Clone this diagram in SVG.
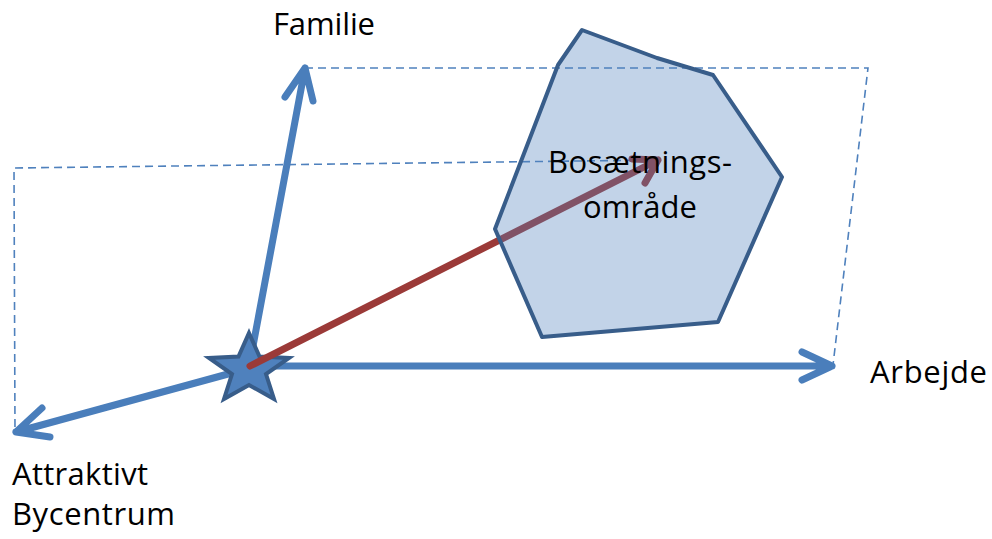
<svg xmlns="http://www.w3.org/2000/svg" width="992" height="539" viewBox="0 0 992 539">
<style>
.dash{fill:none;stroke:#4F81BD;stroke-width:1.6;stroke-dasharray:8 5}
.blue{fill:none;stroke:#4A7EBB;stroke-width:7;stroke-linecap:round;stroke-linejoin:round}
.red{fill:none;stroke:#9B3A38;stroke-width:7;stroke-linecap:round;stroke-linejoin:round}
.lbl{font-family:"Open Sans","Liberation Sans",Arial,sans-serif;font-size:31px;fill:#000}
</style>
<rect width="992" height="539" fill="#fff"/>
<g id="connectors">
<path class="dash" d="M305,68 L868,68 L833,365"/>
<path class="dash" d="M660,160 L14,168 L15,432"/>
<path class="blue" d="M250,362 L305,68 M285,97 L305,68 L313,101"/>
<path class="blue" d="M250,366 L832,366 M802,352 L832,366 L802,380"/>
<path class="blue" d="M250,368 L16,432 M42,408 L16,432 L50,437"/>
</g>
<g id="star">
<polygon points="249,333 259.5,356.5 289,358 266,374 274,399 249,385 224,399 232,374 209,358 238.5,356.5" fill="#4F81BD" stroke="#385D8A" stroke-width="4" stroke-linejoin="miter"/>
</g>
<g id="red-arrow">
<path class="red" d="M250,366 L658,160 M632,159 L658,160 L645,183"/>
</g>
<g id="bosaetningsomraade">
<polygon points="582,30 657,58 713,75 782,177 718,322 542,337 495,229 558,65" fill="#4F81BD" fill-opacity="0.35" stroke="#385D8A" stroke-width="4" stroke-linejoin="round"/>
<text class="lbl" x="640" y="173" text-anchor="middle" textLength="184">Bosætnings-</text>
<text class="lbl" x="640" y="218" text-anchor="middle" textLength="114">område</text>
</g>
<g id="familie"><text class="lbl" x="273" y="35" textLength="102">Familie</text></g>
<g id="arbejde"><text class="lbl" x="870" y="383" textLength="117">Arbejde</text></g>
<g id="attraktivt"><text class="lbl" x="12" y="485" textLength="136">Attraktivt</text>
<text class="lbl" x="12" y="525" textLength="163">Bycentrum</text></g>
</svg>
